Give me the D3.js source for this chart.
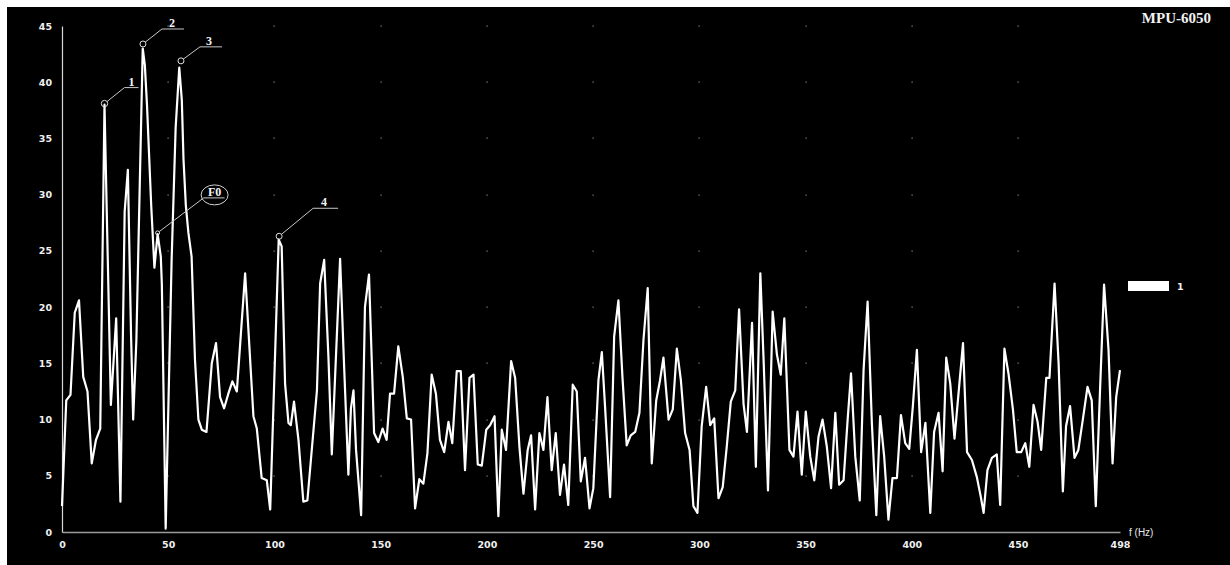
<!DOCTYPE html>
<html>
<head>
<meta charset="utf-8">
<script src="https://cdn.jsdelivr.net/npm/d3@7"></script>
<style>
  html, body { margin: 0; padding: 0; background: #fff; }
  svg { display: block; }
</style>
</head>
<body>
<svg id="chart" width="1230" height="565"></svg>
<script>
// ---------------- DATA ----------------
const freqs = [
  0, 2, 4, 6, 8, 10, 12, 14, 16, 18,
  20, 23, 24.3, 25.5, 27.5, 29.5, 31, 32.5, 33.5, 35,
  38, 39, 40, 42, 43.5, 45, 46.5, 47, 48.8, 51.6,
  53.5, 55.2, 56.4, 57.2, 58.3, 59.5, 61, 62.6, 64.2, 65.8,
  68, 70.5, 72.5, 74.4, 76.3, 78.3, 80.2, 82.3, 86.2, 90.1,
  91.7, 94, 96.4, 98, 102, 103.4, 105, 106.6, 107.7, 109.2,
  111.3, 113.6, 115.5, 120, 121.5, 123.4, 125.4, 127, 130.9, 132.8,
  134.8, 136, 137.2, 138.4, 140.8, 142.6, 144.5, 146.9, 148.9, 150.9,
  152.8, 154.4, 156.3, 158.3, 160.4, 162.3, 164.3, 166.2, 168.2, 170.1,
  172, 174, 176, 177.9, 179.9, 181.9, 183.7, 185.8, 187.7, 189.7,
  191.8, 193.7, 195.7, 197.6, 199.7, 201.5, 203.6, 205.4, 207, 209,
  211.4, 213.3, 215.3, 217.2, 219.2, 220.8, 222.7, 224.7, 226.6, 228.5,
  230.5, 232.4, 234.4, 236.3, 238.3, 240.4, 242.3, 244.2, 246.2, 248.3,
  250.1, 252.5, 254.1, 255.6, 258, 259.9, 261.9, 263.8, 265.8, 267.7,
  269.8, 271.8, 273.7, 275.7, 277.6, 279.7, 281.5, 283.1, 285.5, 287.5,
  289.4, 291.3, 293.3, 295.4, 297.2, 299.1, 301.1, 303.2, 305.1, 307,
  309, 311, 312.9, 314.8, 316.9, 318.7, 320.8, 322.4, 324.8, 326.6,
  328.7, 330.3, 332.3, 334.5, 336.5, 338.3, 340, 342.4, 344.3, 346.2,
  348.2, 350.1, 352.2, 354.1, 356.1, 358, 360, 362, 364, 365.8,
  367.9, 369.8, 371.4, 373.4, 375.5, 377.3, 379.2, 381.2, 383.3, 385.1,
  387, 389, 390.9, 393, 394.9, 396.9, 398.8, 400.5, 402.4, 404.4,
  406.4, 408.7, 410.5, 412.6, 414.5, 416.2, 418.1, 420.1, 424.1, 426,
  428.3, 430.6, 432.5, 433.8, 435.6, 437.7, 440, 441.6, 443.6, 445.5,
  447.6, 449.4, 451.5, 453.4, 455.3, 457.3, 459.2, 460.9, 463.3, 464.8,
  467.2, 469.1, 471.1, 472.6, 474.5, 476.6, 478.4, 480.5, 482.7, 484.7,
  486.6, 488.6, 490.5, 492.6, 494.5, 496.2, 498
];
const amplitudes = [
  2.3, 11.7, 12.2, 19.5, 20.6, 13.8, 12.5, 6.1, 8.2, 9.2,
  38.0, 11.3, 15.3, 19.0, 2.7, 28.5, 32.2, 17.5, 10.0, 17.0,
  43.0, 41.5, 38.0, 29.0, 23.5, 26.5, 24.5, 22.0, 0.3, 24.2,
  36.0, 41.3, 38.4, 33.1, 29.0, 26.6, 24.5, 15.3, 10.0, 9.1,
  8.9, 15.0, 16.8, 12.0, 11.0, 12.3, 13.4, 12.5, 23.0, 10.3,
  9.2, 4.8, 4.6, 2.0, 26.0, 25.4, 13.2, 9.7, 9.5, 11.6,
  8.2, 2.7, 2.8, 12.6, 22.1, 24.2, 15.6, 6.9, 24.3, 14.7,
  5.1, 11.0, 12.6, 7.3, 1.5, 20.0, 22.9, 8.8, 8.0, 9.2,
  8.2, 12.3, 12.3, 16.5, 13.8, 10.1, 10.0, 2.1, 4.7, 4.3,
  7.0, 14.0, 12.3, 8.2, 7.1, 9.8, 7.9, 14.3, 14.3, 5.5,
  13.7, 14.0, 6.0, 5.9, 9.1, 9.5, 10.3, 1.4, 9.1, 7.3,
  15.2, 13.7, 7.6, 3.4, 7.3, 8.6, 2.0, 8.8, 7.3, 12.0,
  5.5, 8.8, 3.3, 6.0, 2.4, 13.1, 12.5, 4.5, 6.6, 2.1,
  3.9, 13.5, 16.0, 11.2, 3.1, 17.4, 20.6, 13.8, 7.7, 8.6,
  8.9, 10.6, 17.1, 21.7, 6.1, 11.7, 13.5, 15.5, 10.0, 10.9,
  16.3, 13.5, 8.8, 7.3, 2.3, 1.7, 9.4, 12.9, 9.5, 10.1,
  3.0, 4.0, 7.6, 11.6, 12.6, 19.8, 11.4, 8.9, 18.6, 5.8,
  23.0, 15.0, 3.7, 19.6, 15.8, 14.0, 19.0, 7.3, 6.7, 10.7,
  5.1, 10.7, 6.7, 4.6, 8.5, 10.0, 7.6, 3.9, 10.6, 4.2,
  4.6, 10.0, 14.1, 6.7, 2.8, 14.4, 20.5, 9.7, 1.5, 10.3,
  6.7, 1.1, 4.8, 4.8, 10.4, 7.9, 7.4, 11.2, 16.2, 7.1,
  9.7, 1.7, 8.9, 10.6, 5.4, 15.5, 13.2, 8.3, 16.8, 7.1,
  6.4, 4.9, 3.1, 1.7, 5.5, 6.6, 6.9, 2.4, 16.3, 14.1,
  10.9, 7.1, 7.1, 7.9, 5.8, 11.3, 9.8, 7.3, 13.7, 13.7,
  22.1, 15.0, 3.6, 9.4, 11.2, 6.6, 7.3, 10.0, 12.9, 11.7,
  2.3, 12.6, 22.0, 16.2, 6.1, 12.0, 14.4
];

const xTicks = [0, 50, 100, 150, 200, 250, 300, 350, 400, 450, 498];
const yTicks = [0, 5, 10, 15, 20, 25, 30, 35, 40, 45];
const xLabel = "f (Hz)";
const title = "MPU-6050";
const seriesName = "1";

const markerNames = ["1", "2", "3", "F0", "4"];
const markerFreqs = [20, 38.1, 56, 45, 102.2];
const markerAmps = [38.1, 43.4, 41.9, 26.6, 26.3];

// ---------------- LAYOUT / STYLE ----------------
const W = 1230, H = 565;
const plot = { left: 62, right: 1120, top: 26, bottom: 532 };
const markerStyle = [
  { dx: 20, dy: -16, len: 14, r: 3.2, lx: 7 },
  { dx: 19, dy: -15, len: 22, r: 3, lx: 10 },
  { dx: 19, dy: -14, len: 22, r: 3, lx: 9 },
  { dx: 46, dy: -35, len: 21, r: 2, lx: 11, ellipse: true },
  { dx: 34, dy: -28, len: 25, r: 3, lx: 11 }
];

const data = freqs.map((f, i) => ({ f, v: amplitudes[i] }));

const svg = d3.select("#chart");
svg.append("rect").attr("x", 0).attr("y", 0).attr("width", W).attr("height", H).attr("fill", "#fff");
svg.append("rect").attr("x", 7).attr("y", 7).attr("width", W - 7).attr("height", H - 7).attr("fill", "#000");

const x = d3.scaleLinear().domain([0, 498]).range([plot.left, plot.right]);
const y = d3.scaleLinear().domain([0, 45]).range([plot.bottom, plot.top]);

// grid dots at tick intersections
const gridG = svg.append("g");
xTicks.filter(t => t > 0 && t < 498).forEach(tx => {
  yTicks.filter(t => t > 0).forEach(ty => {
    gridG.append("rect")
      .attr("x", Math.round(x(tx)) - 0.5).attr("y", Math.round(y(ty)) - 0.5)
      .attr("width", 1.2).attr("height", 1.2).attr("fill", "#8a8a8a");
  });
});

// axes
const xAxis = d3.axisBottom(x).tickValues(xTicks).tickSize(0).tickPadding(10).tickFormat(d3.format("d"));
const yAxis = d3.axisLeft(y).tickValues(yTicks).tickSize(0).tickPadding(10).tickFormat(d3.format("d"));

const gx = svg.append("g").attr("transform", `translate(0,${plot.bottom})`).call(xAxis);
gx.select(".domain").attr("stroke", "#9a9a9a").attr("stroke-width", 1.6);
gx.selectAll("text").attr("fill", "#f0f0f0").attr("font-family", "DejaVu Sans, Verdana, sans-serif")
  .attr("font-weight", "bold").attr("font-size", "9.5px").attr("dy", "0.6em");

const gy = svg.append("g").attr("transform", `translate(${plot.left},0)`).call(yAxis);
gy.select(".domain").attr("stroke", "#d8d8d8").attr("stroke-width", 1.2);
gy.selectAll("text").attr("fill", "#f0f0f0").attr("font-family", "DejaVu Sans, Verdana, sans-serif")
  .attr("font-weight", "bold").attr("font-size", "9.5px");

// x axis label
svg.append("text").attr("x", plot.right + 9).attr("y", plot.bottom + 4)
  .attr("fill", "#e8e8e8").attr("font-family", "Liberation Sans, Arial, sans-serif")
  .attr("font-size", "10px").text(xLabel);

// title
svg.append("text").attr("x", 1211).attr("y", 23).attr("text-anchor", "end")
  .attr("fill", "#f2f2f2").attr("font-family", "Liberation Serif, Times New Roman, serif")
  .attr("font-weight", "bold").attr("font-size", "15px").text(title);

// series line
const line = d3.line().x(d => x(d.f)).y(d => y(d.v)).curve(d3.curveLinear);
svg.append("path").datum(data).attr("d", line)
  .attr("fill", "none").attr("stroke", "#ffffff").attr("stroke-width", 2.2)
  .attr("stroke-linejoin", "round");

// legend
svg.append("rect").attr("x", 1128).attr("y", 281).attr("width", 41).attr("height", 10).attr("fill", "#fff");
svg.append("text").attr("x", 1177).attr("y", 290).attr("fill", "#f0f0f0")
  .attr("font-family", "DejaVu Sans, Verdana, sans-serif").attr("font-weight", "bold")
  .attr("font-size", "9.5px").text(seriesName);

// markers with leader lines
const mg = svg.append("g");
markerNames.forEach((name, i) => {
  const s = markerStyle[i];
  const cx = x(markerFreqs[i]), cy = y(markerAmps[i]);
  const ex = cx + s.dx, ey = cy + s.dy;
  const ang = Math.atan2(s.dy, s.dx);
  mg.append("circle").attr("cx", cx).attr("cy", cy).attr("r", s.r)
    .attr("fill", "none").attr("stroke", "#e0e0e0").attr("stroke-width", 1);
  mg.append("path")
    .attr("d", `M${cx + s.r * Math.cos(ang)},${cy + s.r * Math.sin(ang)}L${ex},${ey}L${ex + s.len},${ey}`)
    .attr("fill", "none").attr("stroke", "#c8c8c8").attr("stroke-width", 1);
  if (s.ellipse) {
    mg.append("ellipse").attr("cx", ex + s.lx).attr("cy", ey - 3).attr("rx", 13.5).attr("ry", 10)
      .attr("fill", "none").attr("stroke", "#d0d0d0").attr("stroke-width", 1);
  }
  mg.append("text").attr("x", ex + s.lx).attr("y", ey - 2).attr("text-anchor", "middle")
    .attr("fill", "#f4f4f4").attr("font-family", "Liberation Serif, Times New Roman, serif")
    .attr("font-weight", "bold").attr("font-size", "12px").text(name);
});
</script>
</body>
</html>
